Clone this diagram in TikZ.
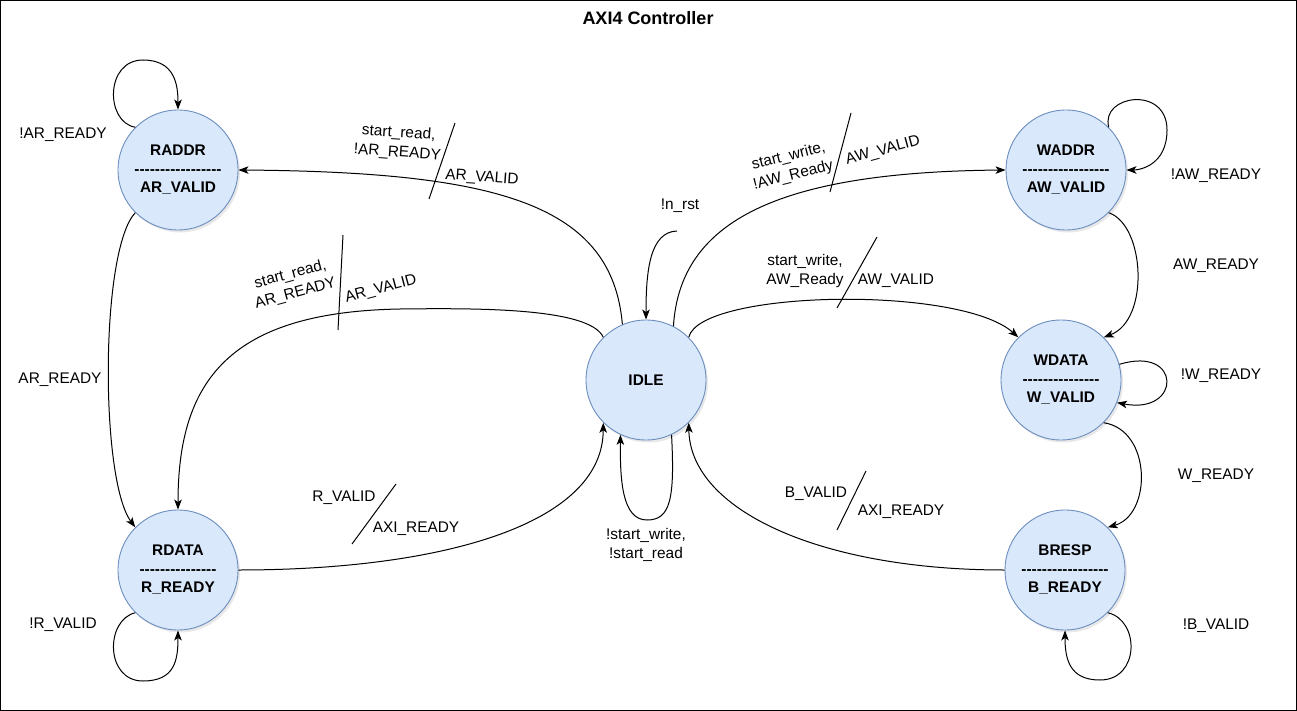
\documentclass[tikz,border=0pt]{standalone}
\usepackage{fontspec}
\setmainfont{Liberation Sans}
\newfontfamily\dashfont{Liberation Sans}[Ligatures=TeXOff]
\usetikzlibrary{arrows.meta,shadows}
\definecolor{nodefill}{HTML}{DAE8FC}
\definecolor{nodeline}{HTML}{6C8EBF}
\tikzset{
 fsm/.style={circle, minimum size=120pt, inner sep=0pt, draw=nodeline, fill=nodefill, line width=0.9pt, align=center,
   font=\fontsize{15.4}{18.5}\selectfont\bfseries, drop shadow={opacity=0.18, shadow xshift=2pt, shadow yshift=-2.5pt}},
 lbl/.style={align=center, inner sep=0pt, font=\fontsize{15.4}{19.5}\selectfont},
 tr/.style={draw, line width=1pt, -{Stealth[length=10pt,width=7.5pt,inset=2.5pt]}},
 slash/.style={draw, line width=1pt},
}
\begin{document}
\begin{tikzpicture}[x=1pt,y=-1pt]
\useasboundingbox (0,0) rectangle (1297,711);
\draw[line width=1.3pt] (0.7,0.7) rectangle (1296.3,710.3);
\node[font=\fontsize{18}{20}\selectfont\bfseries] (title) at (648,18) {AXI4 Controller};

% states
\node[fsm] (raddr) at (178,170) {RADDR\\{\dashfont\bfseries -----------------}\\AR\_VALID};
\node[fsm] (rdata) at (178,570) {RDATA\\{\dashfont\bfseries ---------------}\\R\_READY};
\node[fsm] (idle)  at (646,380) {IDLE};
\node[fsm] (waddr) at (1066,170) {WADDR\\{\dashfont\bfseries -----------------}\\AW\_VALID};
\node[fsm] (wdata) at (1061,380) {WDATA\\{\dashfont\bfseries ---------------}\\W\_VALID};
\node[fsm] (bresp) at (1065,570) {BRESP\\{\dashfont\bfseries -----------------}\\B\_READY};

\coordinate (nrst) at (677,231);

% transitions
\draw[tr] (raddr.135) .. controls (105,122) and (105,60) .. (143,60) .. controls (175,60) and (178,85) .. (raddr.north);
\draw[tr] (idle.113) .. controls (612,205) and (500,172) .. (raddr.east);
\draw[tr] (idle.135) .. controls (590,308) and (480,308) .. (400,309) .. controls (230,312) and (178,380) .. (rdata.north);
\draw[tr] (raddr.225) .. controls (100,250) and (100,480) .. (rdata.135);
\draw[tr] (rdata.225) .. controls (105,620) and (105,681) .. (143,681) .. controls (175,681) and (178,660) .. (rdata.south);
\draw[tr] (rdata.east) .. controls (440,570) and (603,525) .. (idle.225);
\draw[tr] (idle.-65) .. controls (675,500) and (670,520) .. (647,520) .. controls (622,520) and (620,480) .. (idle.245);
\draw[tr] (nrst) .. controls (650,232) and (646,270) .. (idle.north);
\draw[tr] (idle.63) .. controls (680,220) and (780,172) .. (waddr.west);
\draw[tr] (idle.45) .. controls (700,290) and (960,285) .. (wdata.135);
\draw[tr] (waddr.45) .. controls (1100,95) and (1167,85) .. (1167,130) .. controls (1167,165) and (1140,170) .. (waddr.east);
\draw[tr] (waddr.-45) .. controls (1145,225) and (1150,320) .. (wdata.45);
\draw[tr] (wdata.15) .. controls (1182,345) and (1182,415) .. (wdata.-22);
\draw[tr] (wdata.-45) .. controls (1152,430) and (1152,515) .. (bresp.45);
\draw[tr] (bresp.-45) .. controls (1140,620) and (1140,680) .. (1100,680) .. controls (1070,680) and (1065,660) .. (bresp.south);
\draw[tr] (bresp.west) .. controls (820,570) and (690,510) .. (idle.-45);

% slash marks
\draw[slash] (455,123) -- (429,199);
\draw[slash] (343,235) -- (338,330);
\draw[slash] (396,484) -- (352,544);
\draw[slash] (851,113) -- (830,192);
\draw[slash] (877,237) -- (837,308);
\draw[slash] (866,471) -- (837,530);

% labels
\node[lbl] (l1) at (63,135) {!AR\_READY};
\node[lbl, rotate=-4] (l2) at (398,143) {start\_read,\\!AR\_READY};
\node[lbl, rotate=-4] (l3) at (482,178) {AR\_VALID};
\node[lbl, rotate=15] (l4) at (293,284) {start\_read,\\AR\_READY};
\node[lbl, rotate=15] (l5) at (381,289) {AR\_VALID};
\node[lbl] (l6) at (60,380) {AR\_READY};
\node[lbl] (l7) at (63,625) {!R\_VALID};
\node[lbl] (l8) at (344,498) {R\_VALID};
\node[lbl] (l9) at (416,529) {AXI\_READY};
\node[lbl] (l10) at (646,545) {!start\_write,\\!start\_read};
\node[lbl] (l11) at (680,206) {!n\_rst};
\node[lbl, rotate=14] (l12) at (791,166) {start\_write,\\!AW\_Ready};
\node[lbl, rotate=15] (l13) at (883,151) {AW\_VALID};
\node[lbl] (l14) at (805,271) {start\_write,\\AW\_Ready};
\node[lbl] (l15) at (896,281) {AW\_VALID};
\node[lbl] (l16) at (1216,176) {!AW\_READY};
\node[lbl] (l17) at (1216,266) {AW\_READY};
\node[lbl] (l18) at (1221,376) {!W\_READY};
\node[lbl] (l19) at (1216,476) {W\_READY};
\node[lbl] (l20) at (1216,626) {!B\_VALID};
\node[lbl] (l21) at (816,494) {B\_VALID};
\node[lbl] (l22) at (901,512) {AXI\_READY};
\end{tikzpicture}
\end{document}
